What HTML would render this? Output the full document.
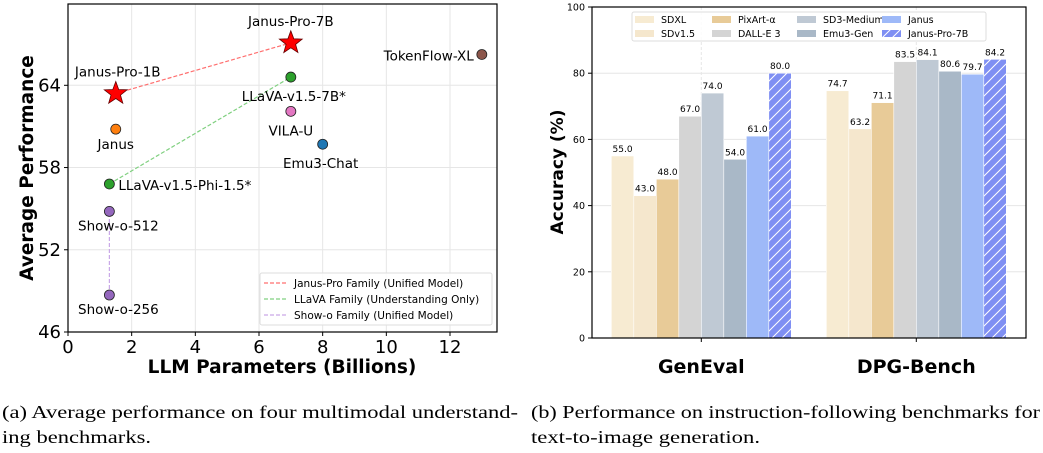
<!DOCTYPE html>
<html><head><meta charset="utf-8"><style>
body{margin:0;background:#fff}
svg{display:block;font-family:"DejaVu Sans","Liberation Sans",sans-serif}
</style></head><body>
<svg id="svg" width="1043" height="453" viewBox="0 0 1043 453" xmlns="http://www.w3.org/2000/svg">
<defs>
<pattern id="hatch" width="10" height="10" patternUnits="userSpaceOnUse">
<rect width="10" height="10" fill="#7f8ff3"/>
<path d="M0,10 L10,0 M-2,2 L2,-2 M8,12 L12,8" stroke="#fff" stroke-width="1"/>
</pattern>
</defs>
<g id="left"></g>
<g id="right"></g>
<text x="2" y="418" font-family="Liberation Serif, serif" font-size="18" textLength="516" lengthAdjust="spacingAndGlyphs">(a) Average performance on four multimodal understand-</text>
<text x="2" y="443" font-family="Liberation Serif, serif" font-size="18" textLength="149" lengthAdjust="spacingAndGlyphs">ing benchmarks.</text>
<text x="531" y="418" font-family="Liberation Serif, serif" font-size="18" textLength="509" lengthAdjust="spacingAndGlyphs">(b) Performance on instruction-following benchmarks for</text>
<text x="531" y="443" font-family="Liberation Serif, serif" font-size="18" textLength="229" lengthAdjust="spacingAndGlyphs">text-to-image generation.</text>
</svg>
<script>
const NS="http://www.w3.org/2000/svg";
function mk(p,t,a,txt){const e=document.createElementNS(NS,t);for(const k in a)e.setAttribute(k,a[k]);if(txt!==undefined)e.textContent=txt;p.appendChild(e);return e;}

// ---- Left scatter data ----
const modelNames=["Janus-Pro-1B","Janus-Pro-7B","TokenFlow-XL","LLaVA-v1.5-7B*","VILA-U","Janus","Emu3-Chat","LLaVA-v1.5-Phi-1.5*","Show-o-512","Show-o-256"];
const modelParams=[1.5,7,13,7,7,1.5,8,1.3,1.3,1.3];
const modelScores=[63.4,67.1,66.25,64.6,62.1,60.8,59.7,56.8,54.8,48.7];
const xTicks=[0,2,4,6,8,10,12];
const yTicks=[46,52,58,64];
const familyLines=[[0,1],[7,3],[9,8]];
const familyNames=["Janus-Pro Family (Unified Model)","LLaVA Family (Understanding Only)","Show-o Family (Unified Model)"];
const familyColors=["#ff6f6f","#80d080","#c9a8e8"];
const pointColors=["red","red","#8c564b","#2ca02c","#e377c2","#ff7f0e","#1f77b4","#2ca02c","#9467bd","#9467bd"];

const L=document.getElementById('left');
const lx0=68,lx1=497,ly0=4,ly1=332;
const sx=v=>lx0+(v-0)*(450-lx0)/12;
const sy=v=>ly1-(v-46)*(ly1-85.3)/18;
xTicks.forEach(t=>{
  let g=mk(L,'line',{x1:sx(t),x2:sx(t),y1:ly0,y2:ly1,stroke:'#e6e6e6','stroke-width':1});
  
  mk(L,'line',{x1:sx(t),x2:sx(t),y1:ly1,y2:ly1+4,stroke:'#000'});
  let tl=mk(L,'text',{x:sx(t),y:ly1+21,'text-anchor':'middle','font-size':18},t);
  
});
yTicks.forEach(t=>{
  let g=mk(L,'line',{x1:lx0,x2:lx1,y1:sy(t),y2:sy(t),stroke:'#e6e6e6','stroke-width':1});
  
  mk(L,'line',{x1:lx0-4,x2:lx0,y1:sy(t),y2:sy(t),stroke:'#000'});
  let tl=mk(L,'text',{x:lx0-7,y:sy(t)+6,'text-anchor':'end','font-size':18},t);
  
});
let fr=mk(L,'rect',{x:lx0,y:ly0,width:lx1-lx0,height:ly1-ly0,fill:'none',stroke:'#000','stroke-width':1.2});

familyLines.forEach((p,i)=>{
  let l=mk(L,'line',{x1:sx(modelParams[p[0]]),y1:sy(modelScores[p[0]]),x2:sx(modelParams[p[1]]),y2:sy(modelScores[p[1]]),stroke:familyColors[i],'stroke-width':1.2,'stroke-dasharray':'4,2'});
  
});
const labelOff=[[2,-17,'middle'],[0,-17,'middle'],[-8,6,'end'],[3,24,'middle'],[0,24,'middle'],[0,20,'middle'],[-2,24,'middle'],[9,6,'start'],[9,19,'middle'],[9,19,'middle']];
function star(cx,cy,R,r){let p=[];for(let i=0;i<10;i++){let a=-Math.PI/2+i*Math.PI/5,rr=i%2?r:R;p.push((cx+rr*Math.cos(a)).toFixed(1)+','+(cy+rr*Math.sin(a)).toFixed(1));}return p.join(' ');}
modelNames.forEach((n,i)=>{
  const cx=sx(modelParams[i]),cy=sy(modelScores[i]);
  let m;
  if(i<2)m=mk(L,'polygon',{points:star(cx,cy,12,5),fill:'red',stroke:'#600','stroke-width':0.8});
  else m=mk(L,'circle',{cx:cx,cy:cy,r:5,fill:pointColors[i],stroke:'#222','stroke-width':0.8});
  
  
  const o=labelOff[i];
  let t=mk(L,'text',{x:cx+o[0],y:cy+o[1],'text-anchor':o[2],'font-size':13.5},n);
  
});
let xl=mk(L,'text',{x:282,y:373,'text-anchor':'middle','font-size':18.5,'font-weight':'bold'},'LLM Parameters (Billions)');

let yl=mk(L,'text',{x:0,y:0,transform:'translate(33,168) rotate(-90)','text-anchor':'middle','font-size':18.5,'font-weight':'bold'},'Average Performance');

let lg=mk(L,'rect',{x:260,y:273,width:232,height:52,fill:'#fff','fill-opacity':0.85,stroke:'#ddd',rx:2});

familyNames.forEach((n,i)=>{
  const y=283+i*16;
  mk(L,'line',{x1:264,x2:287,y1:y,y2:y,stroke:familyColors[i],'stroke-width':1.2,'stroke-dasharray':'4,2'});
  let t=mk(L,'text',{x:294,y:y+4,'font-size':10.5},n);
  
});

// ---- Right bar data ----
const benchmarks=["GenEval","DPG-Bench"];
const methods=["SDXL","SDv1.5","PixArt-α","DALL-E 3","SD3-Medium","Emu3-Gen","Janus","Janus-Pro-7B"];
const genevalScores=[55.0,43.0,48.0,67.0,74.0,54.0,61.0,80.0];
const dpgScores=[74.7,63.2,71.1,83.5,84.1,80.6,79.7,84.2];
const accTicks=[0,20,40,60,80,100];
const barColors=["#f7ebd2","#f5e7cd","#e8cb98","#d4d4d4","#bfc9d4","#a9b8c7","#9eb9f8","url(#hatch)"];

const R=document.getElementById('right');
const rx0=592,rx1=1026,ry0=7,ry1=338;
const by=v=>ry1-v*(ry1-ry0)/100;
const bx=i=>701.3+215*i;
const bw=22.5;
accTicks.forEach(t=>{
  if(t>0&&t<100){let g=mk(R,'line',{x1:rx0,x2:rx1,y1:by(t),y2:by(t),stroke:'#e6e6e6','stroke-width':1});
  }
  mk(R,'line',{x1:rx0-4,x2:rx0,y1:by(t),y2:by(t),stroke:'#000'});
  let tl=mk(R,'text',{x:rx0-7,y:by(t)+3.5,'text-anchor':'end','font-size':9.5},t);
  
});
benchmarks.forEach((b,i)=>{
  let g=mk(R,'line',{x1:bx(i),x2:bx(i),y1:ry0,y2:ry1,stroke:'#e6e6e6','stroke-dasharray':'3,2'});
  
});
const series=[genevalScores,dpgScores];
series.forEach((vals,gi)=>{
  vals.forEach((v,mi)=>{
    const x=bx(gi)-bw*4+mi*bw;
    let r=mk(R,'rect',{x:x,y:by(v),width:bw,height:by(0)-by(v),fill:barColors[mi],stroke:'#fff','stroke-width':0.6});
    
    
    let t=mk(R,'text',{x:x+bw/2,y:by(v)-4,'text-anchor':'middle','font-size':9},v.toFixed(1));
    
  });
  mk(R,'line',{x1:bx(gi),x2:bx(gi),y1:ry1,y2:ry1+4,stroke:'#000'});
  let cl=mk(R,'text',{x:bx(gi),y:373,'text-anchor':'middle','font-size':19,'font-weight':'bold'},benchmarks[gi]);
  
});
let fr2=mk(R,'rect',{x:rx0,y:ry0,width:rx1-rx0,height:ry1-ry0,fill:'none',stroke:'#000','stroke-width':1.2});

let yl2=mk(R,'text',{x:0,y:0,transform:'translate(563,172) rotate(-90)','text-anchor':'middle','font-size':17,'font-weight':'bold'},'Accuracy (%)');

let lg2=mk(R,'rect',{x:632,y:12,width:354,height:29,fill:'#fff','fill-opacity':0.85,stroke:'#ddd',rx:2});

const legCols=[635,712,797,882];
methods.forEach((m,i)=>{
  const col=Math.floor(i/2),row=i%2;
  const x=legCols[col],y=15+row*14;
  mk(R,'rect',{x:x,y:y+1,width:19,height:7,fill:barColors[i]});
  let t=mk(R,'text',{x:x+26,y:y+8,'font-size':9.5},m);
  
});
</script>
</body></html>
